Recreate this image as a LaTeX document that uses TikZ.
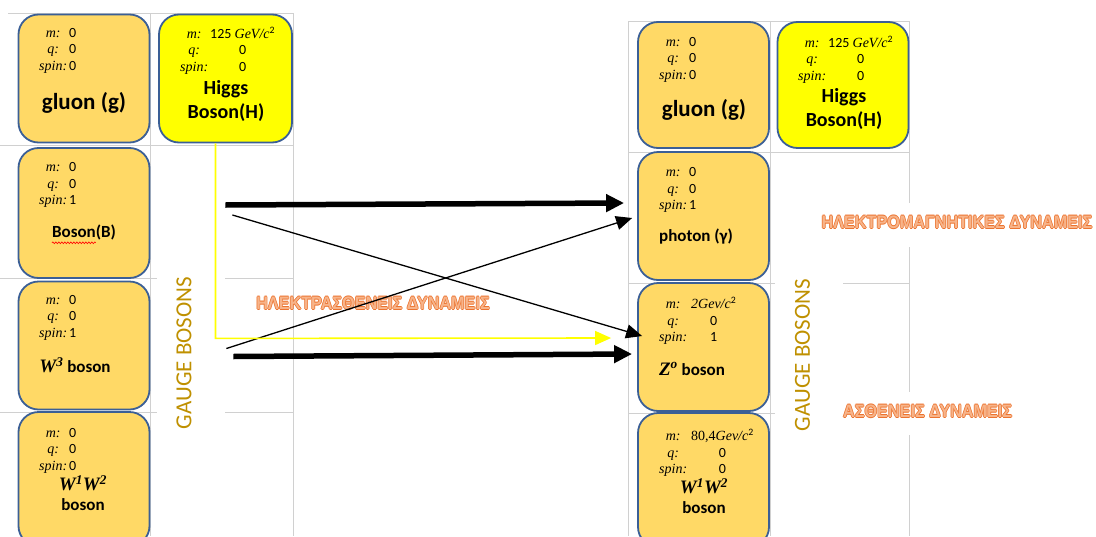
\documentclass[tikz,border=0pt]{standalone}
\usepackage{fontspec}
\setmainfont{Carlito}
\newfontfamily\cambria{Liberation Serif}
\newfontfamily\wordart{Liberation Sans}
\usetikzlibrary{arrows.meta, calc, positioning, decorations.pathmorphing}
\definecolor{boxGold}{HTML}{FFD966}
\definecolor{boxBlue}{HTML}{3B5F96}
\definecolor{higgsYellow}{HTML}{FFFF00}
\definecolor{gaugeGold}{HTML}{BF9000}
\definecolor{forceOrange}{HTML}{EC7430}
\definecolor{forcePeach}{HTML}{F7B48A}
\definecolor{cellGrey}{HTML}{D0D0D0}
\newcommand{\qlab}[1]{{\cambria\itshape #1}}
\newcommand{\wsym}[1]{{\cambria\bfseries\itshape W\textsuperscript{#1}}}
% outlined word-art text: orange copies round a pale core
\newcommand{\outlined}[1]{\leavevmode
  \rlap{\kern-0.8pt#1}\rlap{\kern0.8pt#1}%
  \rlap{\raisebox{0.8pt}{#1}}\rlap{\raisebox{-0.8pt}{#1}}%
  {\color{forcePeach}#1}}
\tikzset{
  % one pixel of the sheet is one point, y grows downwards
  every picture/.append style = {x=1pt, y=-1pt},
  cellline/.style   = {cellGrey, line width=0.8pt},
  particle/.style   = {draw=boxBlue, fill=boxGold, line width=1.8pt,
                       rounded corners=20pt, minimum width=131pt,
                       minimum height=128pt, inner sep=0pt},
  higgs/.style      = {particle, fill=higgsYellow},
  props/.style      = {inner sep=0pt, anchor=north west,
                       font=\fontsize{14}{16.5}\selectfont},
  pname/.style      = {font=\bfseries\fontsize{17}{21}\selectfont,
                       align=center, inner sep=0pt},
  gauge/.style      = {rotate=90, gaugeGold, inner sep=0pt,
                       font=\fontsize{23}{23}\selectfont},
  force/.style      = {forceOrange, inner sep=0pt,
                       font=\wordart\bfseries\fontsize{18}{18}\selectfont},
  thickarrow/.style = {-{Triangle[length=18pt,width=17pt]}, line width=5.5pt},
  thinarrow/.style  = {-{Triangle[length=16pt,width=14pt]}, line width=1.3pt},
  higgsline/.style  = {higgsYellow, line width=1.6pt,
                       -{Triangle[length=16pt,width=14pt]}},
}

\begin{document}
\begin{tikzpicture}
  \useasboundingbox (0,0) rectangle (1096,536);
  \clip (0,0) rectangle (1096,536);

  % cell lines of the sheet, left block
  \draw[cellline] (8,13) -- (293,13);
  \draw[cellline] (0,145) -- (293,145);
  \draw[cellline] (0,278) -- (157,278) (225,278) -- (293,278);
  \draw[cellline] (0,412) -- (157,412) (225,412) -- (293,412);
  \draw[cellline] (150,13) -- (150,536);
  \draw[cellline] (293,13) -- (293,536);
  % right block
  \draw[cellline] (628,21) -- (909,21);
  \draw[cellline] (628,152) -- (909,152);
  \draw[cellline] (628,283) -- (775,283) (843,283) -- (909,283);
  \draw[cellline] (628,413) -- (775,413);
  \draw[cellline] (628,21) -- (628,536);
  \draw[cellline] (770,21) -- (770,536);
  \draw[cellline] (909,21) -- (909,203) (909,247) -- (909,392)
                  (909,435) -- (909,536);

  % left block: before symmetry breaking
  \node[particle] (gluonL) at (84,78.5) {};
  \node[higgs, minimum width=133pt] (higgsL) at (225.5,78.5) {};
  \node[particle, minimum height=130pt] (bosonB) at (84,213) {};
  \node[particle] (wthree) at (84,345.5) {};
  \node[particle, minimum height=134pt] (wonetwoL) at (84,479) {};

  \node[props] (gluonLp) at (39,25.5) {\begin{tabular}{@{}c@{\hspace{2pt}}l@{}}
    \qlab{m:} & 0\\ \qlab{q:} & 0\\ \qlab{spin:} & 0\end{tabular}};
  \node[pname, font=\bfseries\fontsize{23}{24}\selectfont] (gluonLn) at (84,103) {gluon (g)};

  \node[props] (higgsLp) at (180,26.5) {\begin{tabular}{@{}c@{\hspace{2pt}}c@{}}
    \qlab{m:} & 125 {\cambria\itshape GeV/c}\textsuperscript{2}\\
    \qlab{q:} & 0\\ \qlab{spin:} & 0\end{tabular}};
  \node[pname, font=\bfseries\fontsize{20}{24}\selectfont] (higgsLn) at (226,101)
    {Higgs\\Boson(H)};

  \node[props] (bosonBp) at (39,160) {\begin{tabular}{@{}c@{\hspace{2pt}}l@{}}
    \qlab{m:} & 0\\ \qlab{q:} & 0\\ \qlab{spin:} & 1\end{tabular}};
  \node[pname] (bosonBn) at (84,232) {Boson(B)};
  \draw[red, line width=0.6pt, decorate,
        decoration={snake, amplitude=0.9pt, segment length=3pt}]
    ($(bosonBn.south west)+(0,3)$) -- ($(bosonBn.south west)+(44,3)$);

  \node[props] (wthreep) at (39,292.5) {\begin{tabular}{@{}c@{\hspace{2pt}}l@{}}
    \qlab{m:} & 0\\ \qlab{q:} & 0\\ \qlab{spin:} & 1\end{tabular}};
  \node[pname] (wthreen) at (75,365) {{\fontsize{19}{20}\selectfont\wsym{3}} boson};

  \node[props] (wonetwoLp) at (39,425.5) {\begin{tabular}{@{}c@{\hspace{2pt}}l@{}}
    \qlab{m:} & 0\\ \qlab{q:} & 0\\ \qlab{spin:} & 0\end{tabular}};
  \node[pname, font=\bfseries\fontsize{17}{20}\selectfont] (wonetwoLn) at (83,493)
    {{\fontsize{19}{20}\selectfont\wsym{1}\wsym{2}}\\boson};

  \node[gauge] (gaugeL) at (184,353) {GAUGE BOSONS};

  % right block: after symmetry breaking
  \node[particle, minimum height=126pt] (gluonR) at (703.5,85) {};
  \node[higgs, minimum height=126pt] (higgsR) at (843,85) {};
  \node[particle] (photon) at (703.5,216) {};
  \node[particle] (zboson) at (703.5,347) {};
  \node[particle, minimum height=134pt] (wonetwoR) at (703.5,480) {};

  \node[props] (gluonRp) at (659,34.5) {\begin{tabular}{@{}c@{\hspace{2pt}}l@{}}
    \qlab{m:} & 0\\ \qlab{q:} & 0\\ \qlab{spin:} & 0\end{tabular}};
  \node[pname, font=\bfseries\fontsize{23}{24}\selectfont] (gluonRn) at (704,110) {gluon (g)};

  \node[props] (higgsRp) at (798,35.5) {\begin{tabular}{@{}c@{\hspace{2pt}}c@{}}
    \qlab{m:} & 125 {\cambria\itshape GeV/c}\textsuperscript{2}\\
    \qlab{q:} & 0\\ \qlab{spin:} & 0\end{tabular}};
  \node[pname, font=\bfseries\fontsize{20}{24}\selectfont] (higgsRn) at (844,109)
    {Higgs\\Boson(H)};

  \node[props] (photonp) at (659,165) {\begin{tabular}{@{}c@{\hspace{2pt}}l@{}}
    \qlab{m:} & 0\\ \qlab{q:} & 0\\ \qlab{spin:} & 1\end{tabular}};
  \node[pname] (photonn) at (696,237) {photon (γ)};

  \node[props] (zbosonp) at (659,297) {\begin{tabular}{@{}c@{\hspace{4pt}}c@{}}
    \qlab{m:} & {\cambria\itshape 2Gev/c}\textsuperscript{2}\\
    \qlab{q:} & 0\\ \qlab{spin:} & 1\end{tabular}};
  \node[pname] (zbosonn) at (692,369)
    {{\fontsize{19}{20}\selectfont\cambria\bfseries\itshape Z\textsuperscript{o}} boson};

  \node[props] (wonetwoRp) at (659,429) {\begin{tabular}{@{}c@{\hspace{4pt}}c@{}}
    \qlab{m:} & {\cambria 80,4}{\cambria\itshape Gev/c}\textsuperscript{2}\\
    \qlab{q:} & 0\\ \qlab{spin:} & 0\end{tabular}};
  \node[pname, font=\bfseries\fontsize{17}{20}\selectfont] (wonetwoRn) at (704,496)
    {{\fontsize{19}{20}\selectfont\wsym{1}\wsym{2}}\\boson};

  \node[gauge] (gaugeR) at (802.5,355) {GAUGE BOSONS};

  % force labels
  \node[force] (electroweak) at (373,303)
    {\scalebox{0.9}[1]{\outlined{ΗΛΕΚΤΡΑΣΘΕΝΕΙΣ ΔΥΝΑΜΕΙΣ}}};
  \node[force] (electromag) at (957,222)
    {\scalebox{0.9}[1]{\outlined{ΗΛΕΚΤΡΟΜΑΓΝΗΤΙΚΕΣ ΔΥΝΑΜΕΙΣ}}};
  \node[force, anchor=west] (weak) at (843,411)
    {\scalebox{0.9}[1]{\outlined{ΑΣΘΕΝΕΙΣ ΔΥΝΑΜΕΙΣ}}};

  % mixing arrows
  \coordinate (bStartA) at ($(bosonB.east)+(75,-8)$);
  \coordinate (bStartB) at ($(bosonB.east)+(82,2)$);
  \coordinate (wStartA) at ($(wthree.east)+(76,3)$);
  \coordinate (wStartB) at ($(wthree.east)+(83,11)$);
  \coordinate (hCorner) at ($(higgsL.south)+(-10,195)$);
  \draw[thickarrow] (bStartA) -- ($(photon.west)+(-13,-13)$);
  \draw[thinarrow] (bStartB) -- ($(zboson.west)+(5,-11)$);
  \draw[thinarrow] (wStartA) -- ($(photon.west)+(-5,2)$);
  \draw[thickarrow] (wStartB) -- ($(zboson.west)+(-5,7)$);
  \draw[higgsline] ($(higgsL.south)+(-10,0)$) -- (hCorner)
    -- ($(zboson.west)+(-26,-9)$);
\end{tikzpicture}
\end{document}
